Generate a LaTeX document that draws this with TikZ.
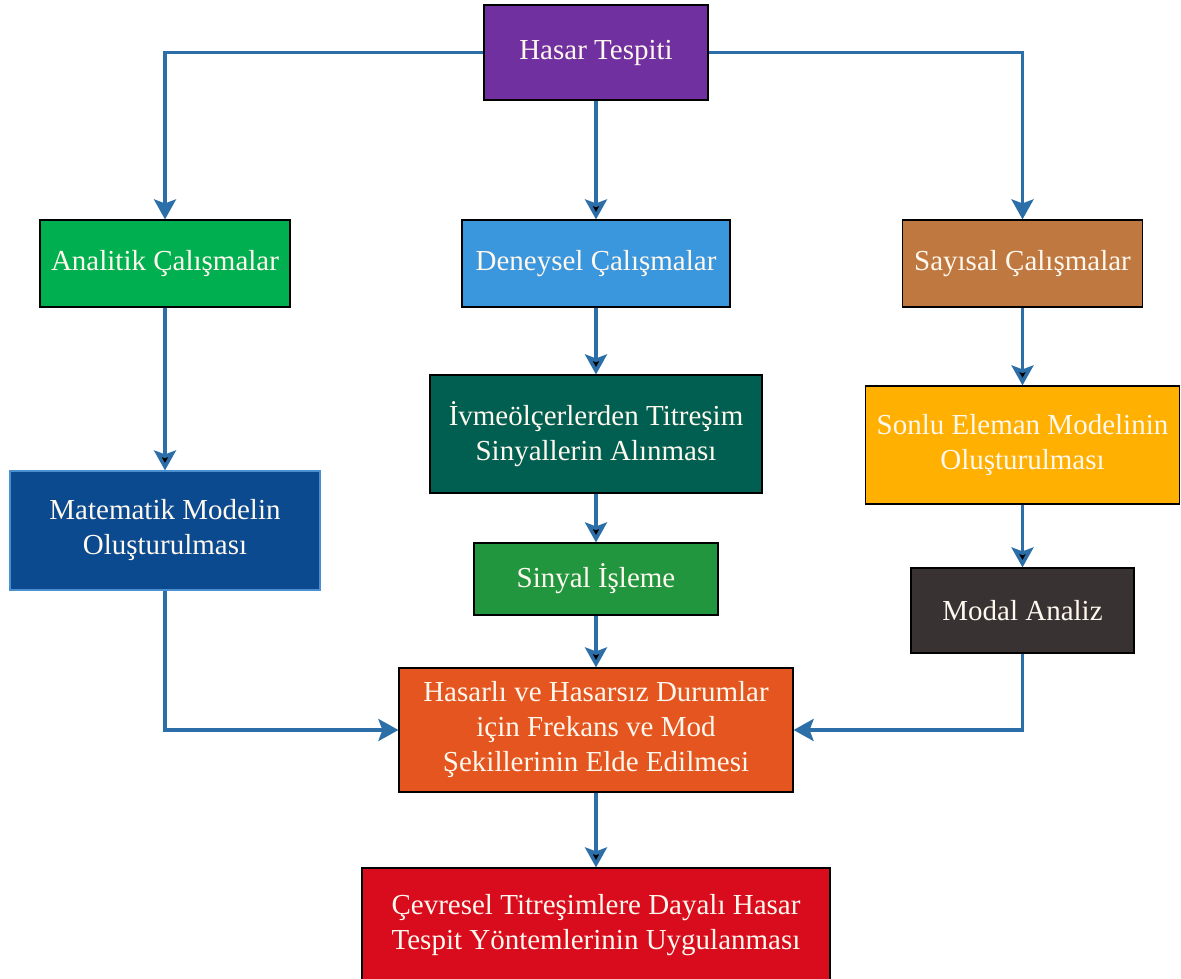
\documentclass[tikz,border=0pt]{standalone}
\usepackage{fontspec}
\setmainfont{Liberation Serif}
\usetikzlibrary{arrows.meta}

\definecolor{cPurple}{HTML}{7030A0}
\definecolor{cGreen}{HTML}{00B050}
\definecolor{cSky}{HTML}{3A96DD}
\definecolor{cBrown}{HTML}{BF7840}
\definecolor{cTeal}{HTML}{005F50}
\definecolor{cLeaf}{HTML}{21963F}
\definecolor{cNavy}{HTML}{0B4A8F}
\definecolor{cNavyLine}{HTML}{4A8FCF}
\definecolor{cAmber}{HTML}{FFB000}
\definecolor{cCoal}{HTML}{383232}
\definecolor{cOrange}{HTML}{E4551F}
\definecolor{cRed}{HTML}{D90C1E}
\definecolor{cLink}{HTML}{2C6FA8}
\definecolor{cText}{HTML}{FFF8EE}

\begin{document}
\begin{tikzpicture}[
                    x=1pt,
                    y=-1pt,
                    link/.style={draw=cLink, line width=3.5pt,
                        -{Stealth[width=22pt,length=20pt,inset=4pt]}},
                    block/.style={draw=black, line width=1.2pt, text=cText,
                        align=center, inner sep=0pt,
                        font=\fontsize{29}{35}\selectfont}
                ]
                \useasboundingbox (0,0) rectangle (1181,979);

                \node (hasar) [block, fill=cPurple, minimum width=224, minimum height=95] at (596,52.5) {Hasar Tespiti};
                \node (analitik) [block, fill=cGreen, minimum width=250, minimum height=87] at (165,263.5) {Analitik Çalışmalar};
                \node (deneysel) [block, fill=cSky, minimum width=268, minimum height=87] at (596,263.5) {Deneysel Çalışmalar};
                \node (sayisal) [block, fill=cBrown, minimum width=240, minimum height=87] at (1022.5,263.5) {Sayısal Çalışmalar};
                \node (ivme) [block, fill=cTeal, minimum width=332, minimum height=118] at (596,434) {İvmeölçerlerden Titreşim\\Sinyallerin Alınması};
                \node (sinyal) [block, fill=cLeaf, minimum width=244, minimum height=72] at (596,579) {Sinyal İşleme};
                \node (mat) [block, draw=cNavyLine, fill=cNavy, minimum width=310, minimum height=119] at (165,530.5) {Matematik Modelin\\Oluşturulması};
                \node (sonlu) [block, fill=cAmber, minimum width=314, minimum height=118] at (1022.5,445) {Sonlu Eleman Modelinin\\Oluşturulması};
                \node (modal) [block, fill=cCoal, minimum width=223, minimum height=85] at (1022.5,610.5) {Modal Analiz};
                \node (durum) [block, fill=cOrange, minimum width=394, minimum height=124] at (596,730) {Hasarlı ve Hasarsız Durumlar\\için Frekans ve Mod\\Şekillerinin Elde Edilmesi};
                \node (yontem) [block, fill=cRed, minimum width=468, minimum height=114] at (596,925) {Çevresel Titreşimlere Dayalı Hasar\\Tespit Yöntemlerinin Uygulanması};

                \draw[link] (hasar) -| (analitik);
                \draw[link] (hasar) -| (sayisal);
                \draw[link] (mat) |- (durum);
                \draw[link] (modal) |- (durum);

                \path[link]
                (hasar) edge (deneysel)
                (analitik) edge (mat)
                (deneysel) edge (ivme)
                (ivme) edge (sinyal)
                (sinyal) edge (durum)
                (sayisal) edge (sonlu)
                (sonlu) edge (modal)
                (durum) edge (yontem)
                ;
            \end{tikzpicture}
\end{document}
